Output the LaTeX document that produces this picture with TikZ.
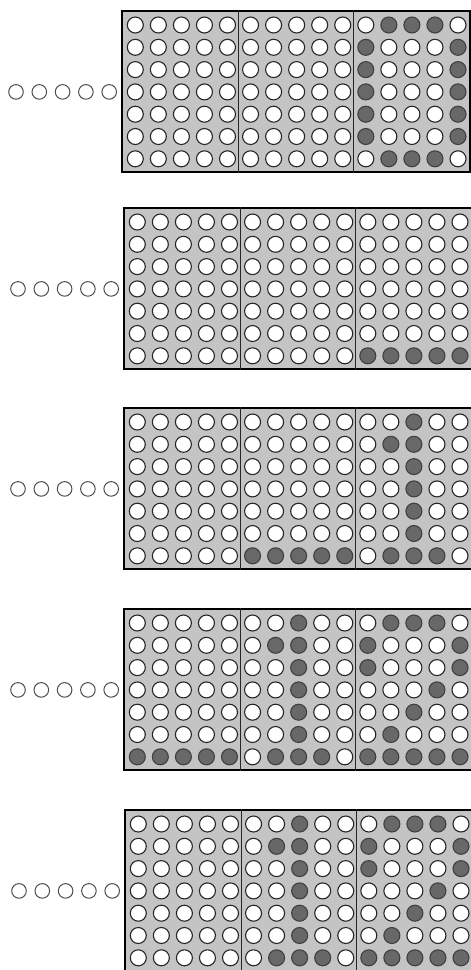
\documentclass[tikz,border=0pt]{standalone}
\definecolor{panelgray}{RGB}{196,196,196}
\definecolor{dotgray}{RGB}{104,104,104}
\tikzset{
  dot0/.style={circle, draw=black!85, fill=white, line width=1.1pt, minimum size=16.0pt, inner sep=0pt},
  dot1/.style={dot0, fill=dotgray, draw=black!75},
  spare/.style={circle, draw=black!70, fill=white, line width=1pt, minimum size=14.6pt, inner sep=0pt},
  frame/.style={draw=black, line width=2pt, fill=panelgray, minimum width=348pt, minimum height=161pt, inner sep=0pt, anchor=north west},
  divider/.style={draw=black!85, line width=0.9pt}
}
\newcommand\drawpanel[4]{%
  \node[frame] (#1) at (#2,#3) {};
  \draw[divider] ([xshift=117pt]#1.north west) -- ([xshift=117pt]#1.south west);
  \draw[divider] ([xshift=232pt]#1.north west) -- ([xshift=232pt]#1.south west);
  \foreach \rowvals [count=\ri] in {#4} {
    \foreach \v [count=\ci] in \rowvals {
      \node[dot\v] (#1-\ri-\ci) at ({#2+14.3+23.05*(\ci-1)}, {#3+15+22.3*(\ri-1)}) {};
    }
  }
  \foreach \k in {1,...,5} {
    \node[spare] (#1-s\k) at ({#2-105+23.3*(\k-1)}, {#3+15+22.3*3}) {};
  }
}
\begin{document}
\begin{tikzpicture}[x=1pt,y=-1pt]
\fill[white] (0,0) rectangle (471,970);
\useasboundingbox (0,0) rectangle (471,970);
% panel 1
\drawpanel{pa}{121}{10}{
 {0,0,0,0,0,0,0,0,0,0,0,1,1,1,0},
 {0,0,0,0,0,0,0,0,0,0,1,0,0,0,1},
 {0,0,0,0,0,0,0,0,0,0,1,0,0,0,1},
 {0,0,0,0,0,0,0,0,0,0,1,0,0,0,1},
 {0,0,0,0,0,0,0,0,0,0,1,0,0,0,1},
 {0,0,0,0,0,0,0,0,0,0,1,0,0,0,1},
 {0,0,0,0,0,0,0,0,0,0,0,1,1,1,0}}
% panel 2
\drawpanel{pb}{123}{207}{
 {0,0,0,0,0,0,0,0,0,0,0,0,0,0,0},
 {0,0,0,0,0,0,0,0,0,0,0,0,0,0,0},
 {0,0,0,0,0,0,0,0,0,0,0,0,0,0,0},
 {0,0,0,0,0,0,0,0,0,0,0,0,0,0,0},
 {0,0,0,0,0,0,0,0,0,0,0,0,0,0,0},
 {0,0,0,0,0,0,0,0,0,0,0,0,0,0,0},
 {0,0,0,0,0,0,0,0,0,0,1,1,1,1,1}}
% panel 3
\drawpanel{pc}{123}{407}{
 {0,0,0,0,0,0,0,0,0,0,0,0,1,0,0},
 {0,0,0,0,0,0,0,0,0,0,0,1,1,0,0},
 {0,0,0,0,0,0,0,0,0,0,0,0,1,0,0},
 {0,0,0,0,0,0,0,0,0,0,0,0,1,0,0},
 {0,0,0,0,0,0,0,0,0,0,0,0,1,0,0},
 {0,0,0,0,0,0,0,0,0,0,0,0,1,0,0},
 {0,0,0,0,0,1,1,1,1,1,0,1,1,1,0}}
% panel 4
\drawpanel{pd}{123}{608}{
 {0,0,0,0,0,0,0,1,0,0,0,1,1,1,0},
 {0,0,0,0,0,0,1,1,0,0,1,0,0,0,1},
 {0,0,0,0,0,0,0,1,0,0,1,0,0,0,1},
 {0,0,0,0,0,0,0,1,0,0,0,0,0,1,0},
 {0,0,0,0,0,0,0,1,0,0,0,0,1,0,0},
 {0,0,0,0,0,0,0,1,0,0,0,1,0,0,0},
 {1,1,1,1,1,0,1,1,1,0,1,1,1,1,1}}
% panel 5
\drawpanel{pe}{124}{809}{
 {0,0,0,0,0,0,0,1,0,0,0,1,1,1,0},
 {0,0,0,0,0,0,1,1,0,0,1,0,0,0,1},
 {0,0,0,0,0,0,0,1,0,0,1,0,0,0,1},
 {0,0,0,0,0,0,0,1,0,0,0,0,0,1,0},
 {0,0,0,0,0,0,0,1,0,0,0,0,1,0,0},
 {0,0,0,0,0,0,0,1,0,0,0,1,0,0,0},
 {0,0,0,0,0,0,1,1,1,0,1,1,1,1,1}}
\end{tikzpicture}
\end{document}
